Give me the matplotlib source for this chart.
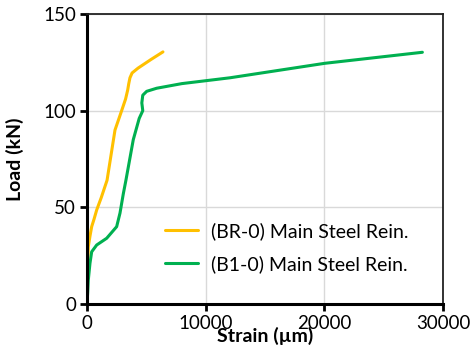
import matplotlib
matplotlib.use("Agg")
import matplotlib.pyplot as plt

plt.rcParams.update({"font.family": ["Lato", "DejaVu Sans"], "font.size": 12})

# strain (µm) and load (kN)
br0_strain = [0, 40, 110, 250, 395, 600, 815, 1200, 1690, 2360, 2920, 3250, 3430, 3520, 3620, 3800, 4300, 5400, 6400]
br0_load = [0, 15, 29.6, 35, 40, 44, 48.6, 55, 64, 90, 100, 106, 110.7, 114, 117, 119.5, 122, 126.5, 130.4]

b10_strain = [0, 60, 110, 250, 395, 815, 1660, 2500, 2780, 3060, 3280, 3900, 4400, 4700, 4620, 4700, 5030, 5870, 8000, 12040, 20040, 28260]
b10_load = [0, 6, 12.4, 21, 27, 30.5, 34, 40, 47, 57, 64, 85, 96, 100, 104, 108, 110, 111.6, 114, 117, 124.5, 130.2]

labels = ["(BR-0) Main Steel Rein.", "(B1-0) Main Steel Rein."]
colors = ["#FFC000", "#00B050"]

fig = plt.figure(figsize=(4.71, 3.6), dpi=100)
ax = fig.add_axes([0.1847, 0.1556, 0.9406 - 0.1847, 0.9611 - 0.1556])

ax.plot(br0_strain, br0_load, color=colors[0], lw=2.2, label=labels[0], solid_capstyle="round")
ax.plot(b10_strain, b10_load, color=colors[1], lw=2.2, label=labels[1], solid_capstyle="round")

ax.set_xlim(0, 30000)
ax.set_ylim(0, 150)
ax.set_xticks([0, 10000, 20000, 30000])
ax.set_yticks([0, 50, 100, 150])
ax.grid(True, color="#d9d9d9", lw=1)
ax.set_axisbelow(True)

for s in ("left", "bottom"):
    ax.spines[s].set_linewidth(2.2)
    ax.spines[s].set_color("black")
for s in ("top", "right"):
    ax.spines[s].set_linewidth(1.3)
    ax.spines[s].set_color("#222222")
ax.tick_params(axis="both", direction="out", length=5, width=2, labelsize=13.5, colors="black", pad=3)

ax.set_xlabel("Strain (µm)", fontweight="bold", fontsize=14, labelpad=-4)
ax.set_ylabel("Load (kN)", fontweight="bold", fontsize=14, labelpad=14)

ax.legend(loc="center left", bbox_to_anchor=(0.197, 0.195), borderaxespad=0, frameon=False,
          fontsize=14, handlelength=1.7, handletextpad=0.65, labelspacing=0.8)

fig.savefig("out.png", dpi=100)
